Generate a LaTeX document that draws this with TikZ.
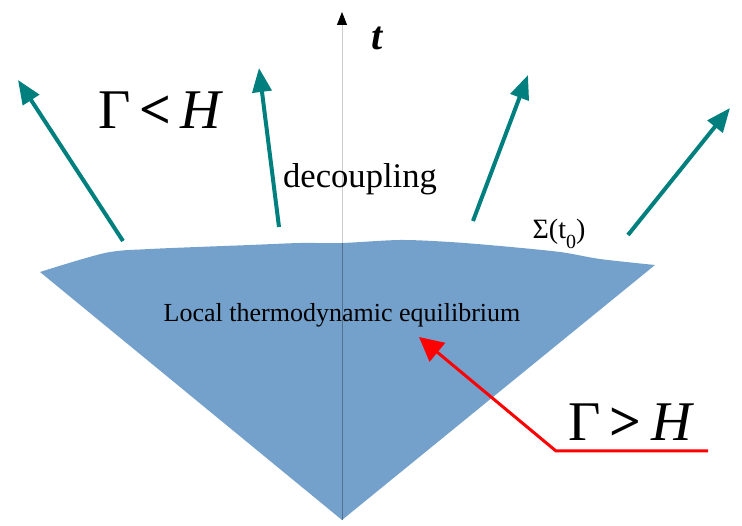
\documentclass[tikz,border=0pt]{standalone}
\usepackage{fontspec}
\setmainfont{Liberation Serif}
\usetikzlibrary{arrows.meta}
\definecolor{conefill}{HTML}{74A1CC}
\definecolor{tealarrow}{HTML}{007F7F}
\tikzset{
  escape/.style={draw=tealarrow, line width=4pt, -{Triangle[length=24pt,width=19pt]}},
  inflow/.style={draw=red, line width=3pt, -{Triangle[length=24pt,width=24pt]}},
  lbl/.style={inner sep=0pt, text=black},
}
\begin{document}
\begin{tikzpicture}[x=1pt,y=-1pt]
\useasboundingbox (0,0) rectangle (742,526);
% cone
\fill[conefill] (342,520) -- plot[smooth, tension=0.5] coordinates {(40,272) (105,253) (150,249) (250,245) (300,243) (342,243) (400,240) (450,242) (500,246) (560,252) (600,259) (655,265)}
  -- cycle;
% time axis
\coordinate (axbot) at (342,520);
\coordinate (axtop) at (342,12);
\draw[conefill!70!black, line width=0.6pt] (axbot) -- (342,243);
\draw[black!20, line width=0.8pt, -{Triangle[length=13pt,width=10pt,black]}] (342,243) -- (axtop);
\node[lbl, font=\fontsize{40}{40}\selectfont\bfseries\itshape] (tlab) at (377,38) {t};
% escape arrows
\coordinate (a1s) at (123,241); \coordinate (a1e) at (18,80);
\coordinate (a2s) at (279,227); \coordinate (a2e) at (259,68);
\coordinate (a3s) at (473,221); \coordinate (a3e) at (528,75);
\coordinate (a4s) at (628,235); \coordinate (a4e) at (730,108);
\draw[escape] (a1s) -- (a1e);
\draw[escape] (a2s) -- (a2e);
\draw[escape] (a3s) -- (a3e);
\draw[escape] (a4s) -- (a4e);
% labels
\node[lbl, font=\fontsize{56}{56}\selectfont] (gl) at (161,110) {Γ\,\textbf{<}\,\textit{H}};
\node[lbl, font=\fontsize{56}{56}\selectfont] (gg) at (631,422) {Γ\,\textbf{>}\,\textit{H}};
\node[lbl, font=\fontsize{34.6}{35}\selectfont] (dec) at (360,179) {decoupling};
\node[lbl, font=\fontsize{28}{28}\selectfont, anchor=base] (sig) at (559,239) {Σ(t\raisebox{-0.35em}{\fontsize{20}{20}\selectfont 0})};
\node[lbl, font=\fontsize{26}{26}\selectfont] (lte) at (342,315) {Local thermodynamic equilibrium};
% red arrow
\coordinate (r0) at (708,451);
\coordinate (r1) at (556,451);
\coordinate (r2) at (419,337);
\draw[inflow] (r0) -- (r1) -- (r2);
\end{tikzpicture}
\end{document}
